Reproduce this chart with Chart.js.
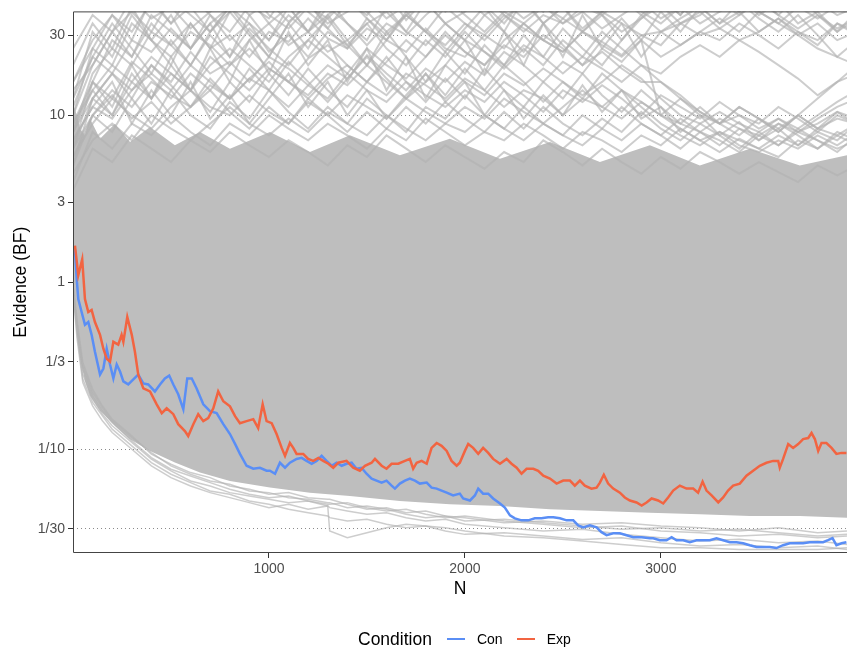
<!DOCTYPE html>
<html>
<head>
<meta charset="utf-8">
<title>Evidence (BF) by N</title>
<script src="https://cdn.jsdelivr.net/npm/chart.js@4.4.1/dist/chart.umd.min.js"></script>
<style>
  html, body { margin: 0; padding: 0; background: #fff; }
  #wrap { position: relative; width: 847px; height: 649px; font-family: 'Liberation Sans', Arial, sans-serif; }
  #legend { position: absolute; left: 358px; top: 628px; height: 22px; display: flex; align-items: center; color: #000; white-space: nowrap; }
  #legend .ttl { font-size: 17.5px; margin-right: 15px; }
  #legend .key { display: inline-block; width: 18px; height: 2px; margin-right: 12px; }
  #legend .lbl { font-size: 14px; margin-right: 14px; }
</style>
</head>
<body>
<div id="wrap">
  <canvas id="chart" width="847" height="649"></canvas>
  <div id="legend"></div>
</div>
<script>
// ── Data (N, log10 of the Bayes factor) ─────────────────────
const conN = [10,19,27,44,61,78,95,112,138,155,172,189,206,223,240,257,282,308,333,359,
  384,418,444,469,491,512,537,563,583,606,631,665,699,733,767,801,827,852,886,920,
  954,988,1005,1031,1056,1082,1107,1141,1167,1192,1218,1243,1269,1294,1320,1345,1371,1396,1422,1447,
  1473,1498,1524,1549,1575,1600,1626,1643,1668,1694,1719,1745,1770,1805,1830,1856,1881,1907,1940,1974,
  1991,2026,2051,2068,2093,2119,2144,2179,2204,2230,2255,2289,2323,2357,2391,2425,2451,2485,2519,2553,
  2578,2604,2638,2672,2697,2723,2757,2791,2825,2859,2902,2944,2961,2995,3029,3055,3080,3114,3148,3182,
  3216,3250,3284,3318,3352,3386,3420,3454,3488,3522,3556,3590,3624,3658,3692,3726,3760,3794,3828,3853,
  3876,3896,3922,3947];
const conLog10BF = [0.196,0.018,-0.101,-0.178,-0.255,-0.238,-0.315,-0.416,-0.553,-0.517,
  -0.398,-0.493,-0.576,-0.493,-0.535,-0.594,-0.612,-0.582,-0.553,-0.606,
  -0.612,-0.654,-0.612,-0.576,-0.559,-0.612,-0.671,-0.761,-0.576,-0.576,
  -0.636,-0.731,-0.772,-0.784,-0.850,-0.909,-0.968,-1.028,-1.099,-1.117,
  -1.111,-1.129,-1.129,-1.147,-1.081,-1.111,-1.081,-1.058,-1.052,-1.070,
  -1.087,-1.070,-1.040,-1.070,-1.099,-1.081,-1.099,-1.087,-1.081,-1.117,
  -1.111,-1.147,-1.176,-1.188,-1.200,-1.188,-1.218,-1.236,-1.206,-1.188,
  -1.176,-1.188,-1.206,-1.200,-1.230,-1.236,-1.248,-1.260,-1.277,-1.266,
  -1.295,-1.307,-1.277,-1.236,-1.266,-1.266,-1.295,-1.325,-1.349,-1.396,
  -1.414,-1.426,-1.426,-1.414,-1.414,-1.408,-1.408,-1.414,-1.426,-1.426,
  -1.456,-1.468,-1.456,-1.468,-1.497,-1.515,-1.503,-1.503,-1.515,-1.527,
  -1.527,-1.533,-1.533,-1.545,-1.545,-1.527,-1.545,-1.545,-1.557,-1.545,
  -1.545,-1.545,-1.533,-1.545,-1.557,-1.557,-1.563,-1.575,-1.586,-1.586,
  -1.586,-1.592,-1.575,-1.563,-1.563,-1.563,-1.557,-1.557,-1.557,-1.545,
  -1.533,-1.575,-1.563,-1.557];

const expN = [10,27,47,61,78,95,112,138,155,172,189,206,231,248,257,277,300,316,333,359,
  393,427,453,478,512,537,571,588,614,639,665,690,716,741,767,801,827,852,886,920,
  945,968,988,1014,1039,1065,1082,1107,1124,1141,1175,1200,1226,1252,1277,1303,1328,1354,1396,1430,
  1464,1490,1524,1541,1575,1600,1626,1660,1694,1719,1736,1754,1779,1805,1830,1856,1881,1907,1932,1958,
  1974,2000,2017,2042,2068,2093,2119,2144,2179,2213,2238,2264,2289,2315,2349,2374,2400,2434,2468,2502,
  2536,2561,2587,2612,2646,2672,2689,2709,2731,2757,2791,2816,2842,2876,2902,2927,2953,2986,3012,3037,
  3063,3097,3131,3165,3190,3213,3233,3259,3293,3318,3343,3369,3403,3437,3471,3505,3539,3573,3599,3607,
  3624,3650,3675,3701,3726,3752,3769,3786,3803,3820,3845,3871,3896,3922,3947];
const expLog10BF = [0.220,0.042,0.137,-0.101,-0.178,-0.166,-0.238,-0.315,-0.398,-0.458,
  -0.475,-0.357,-0.374,-0.315,-0.357,-0.208,-0.315,-0.416,-0.553,-0.636,
  -0.654,-0.731,-0.784,-0.755,-0.790,-0.850,-0.891,-0.921,-0.850,-0.790,
  -0.832,-0.814,-0.755,-0.654,-0.713,-0.743,-0.802,-0.844,-0.832,-0.820,
  -0.873,-0.731,-0.832,-0.844,-0.909,-0.992,-1.040,-0.963,-0.992,-1.028,
  -1.028,-1.058,-1.070,-1.052,-1.070,-1.087,-1.111,-1.081,-1.070,-1.111,
  -1.129,-1.099,-1.081,-1.058,-1.099,-1.117,-1.087,-1.087,-1.070,-1.058,
  -1.117,-1.081,-1.070,-1.087,-0.992,-0.963,-0.980,-1.010,-1.070,-1.099,
  -1.081,-1.010,-0.969,-0.992,-1.028,-0.992,-1.022,-1.058,-1.087,-1.058,
  -1.087,-1.111,-1.147,-1.117,-1.117,-1.129,-1.159,-1.176,-1.206,-1.188,
  -1.188,-1.218,-1.188,-1.218,-1.236,-1.230,-1.200,-1.153,-1.206,-1.236,
  -1.260,-1.289,-1.307,-1.319,-1.337,-1.319,-1.295,-1.307,-1.325,-1.289,
  -1.248,-1.218,-1.236,-1.236,-1.260,-1.194,-1.248,-1.277,-1.319,-1.289,
  -1.248,-1.218,-1.206,-1.159,-1.129,-1.099,-1.081,-1.070,-1.070,-1.111,
  -1.058,-0.969,-0.992,-0.969,-0.939,-0.933,-0.903,-0.939,-1.010,-0.963,
  -0.963,-0.992,-1.028,-1.022,-1.022];

// dense grey mass of simulated runs: top and bottom edge
const bandN = [0,5,20,36,61,87,138,214,291,393,520,648,801,1005,1209,1413,1668,1923,2179,2434,2689,2944,3199,3454,3709,3950];
const bandTop = [1.0,1.05,1.0,0.92,0.88,0.98,0.86,0.95,0.84,0.93,0.82,0.9,0.8,0.9,0.78,0.88,0.76,0.86,0.74,0.84,0.72,0.82,0.7,0.8,0.7,0.76];
const bandBottom = [-0.06,-0.12,-0.3,-0.45,-0.59,-0.68,-0.77,-0.86,-0.94,-1.01,-1.08,-1.14,-1.19,-1.23,-1.26,-1.28,-1.31,-1.33,-1.34,-1.36,-1.37,-1.38,-1.39,-1.40,-1.40,-1.41];

// single runs visible above the mass
const greyN = [0,100,200,300,400,500,600,700,800,900,1000,1100,1200,1300,1400,1500,1600,1700,1800,1900,
  2000,2100,2200,2300,2400,2500,2600,2700,2800,2900,3000,3100,3200,3300,3400,3500,3600,3700,3800,3900,4000];
const greyUpper = [
  [1.2,1.45,1.6,1.5,1.68,1.55,1.72,1.6,1.5,1.66,1.58,1.75,1.62,1.52,1.68,1.6,1.74,1.57,1.7,1.63,1.78,1.66,1.55,1.7,1.62,1.8,1.7,1.62,1.75,1.68,1.85,1.75,1.9,1.8,1.7,1.82,1.75,1.9,1.85,1.95,1.9],
  [0.9,1.25,1.4,1.3,1.5,1.42,1.55,1.4,1.48,1.35,1.5,1.44,1.58,1.46,1.4,1.52,1.45,1.6,1.5,1.42,1.55,1.48,1.6,1.52,1.45,1.58,1.5,1.62,1.55,1.48,1.5,1.55,1.48,1.52,1.45,1.38,1.3,1.22,1.12,1.2,1.3],
  [1.0,1.3,1.5,1.62,1.5,1.7,1.6,1.5,1.65,1.75,1.6,1.52,1.65,1.58,1.7,1.62,1.5,1.6,1.68,1.55,1.62,1.72,1.6,1.5,1.6,1.55,1.65,1.6,1.7,1.62,1.55,1.65,1.75,1.68,1.6,1.7,1.8,1.72,1.65,1.75,1.7],
  [1.1,1.35,1.25,1.45,1.38,1.52,1.4,1.6,1.45,1.55,1.38,1.48,1.35,1.5,1.42,1.3,1.45,1.38,1.52,1.4,1.35,1.48,1.4,1.55,1.45,1.38,1.5,1.44,1.36,1.48,1.42,1.55,1.6,1.7,1.62,1.72,1.65,1.75,1.68,1.6,1.65],
  [0.8,1.1,1.25,1.15,1.3,1.2,1.38,1.25,1.32,1.2,1.35,1.28,1.18,1.3,1.22,1.36,1.25,1.15,1.28,1.2,1.32,1.24,1.38,1.3,1.2,1.32,1.25,1.4,1.32,1.45,1.35,1.42,1.5,1.58,1.5,1.62,1.55,1.48,1.4,1.35,1.3],
  [0.95,1.2,1.1,1.32,1.22,1.1,1.25,1.15,1.3,1.4,1.28,1.2,1.34,1.42,1.3,1.2,1.32,1.45,1.35,1.5,1.38,1.3,1.42,1.35,1.48,1.4,1.3,1.38,1.28,1.2,1.2,1.12,1.02,0.95,1.0,0.92,0.98,0.9,0.95,1.02,0.98],
  [0.7,1.0,1.15,1.05,1.2,1.12,1.05,1.18,1.1,1.22,1.15,1.05,1.18,1.1,1.25,1.15,1.08,1.2,1.12,1.05,1.15,1.08,1.2,1.12,1.02,1.15,1.08,1.18,1.1,1.0,1.12,1.05,0.98,1.08,1.0,0.95,1.05,0.98,0.9,1.0,0.95],
  [0.85,1.05,0.98,1.15,1.25,1.15,1.3,1.2,1.1,1.22,1.32,1.2,1.12,1.25,1.18,1.3,1.2,1.1,1.2,1.3,1.2,1.12,1.25,1.18,1.28,1.2,1.12,1.2,1.3,1.22,1.1,1.0,0.95,1.02,0.95,0.9,0.98,0.92,1.0,1.08,1.15],
  [0.75,0.95,1.1,1.0,0.92,1.05,1.15,1.05,1.0,1.12,1.02,0.95,1.08,1.0,1.12,1.05,0.98,1.1,1.02,0.95,1.05,0.98,1.1,1.02,0.95,1.05,1.15,1.05,0.98,1.08,1.0,1.1,1.02,0.95,1.05,0.98,0.9,1.0,0.92,0.98,0.95],
  [0.6,0.9,0.8,0.95,0.88,1.0,0.9,0.82,0.95,0.88,1.0,0.92,0.85,0.95,0.88,0.8,0.92,0.85,0.98,0.9,0.82,0.9,0.85,0.95,0.88,0.8,0.9,0.85,0.78,0.88,0.82,0.92,0.85,0.78,0.86,0.8,0.75,0.85,0.8,0.88,0.82],
  [0.65,0.85,0.95,0.85,1.0,0.92,0.85,0.95,1.05,0.95,0.88,0.98,0.9,1.02,0.95,0.88,1.0,0.92,0.85,0.95,0.9,1.0,0.92,0.85,0.95,0.88,0.82,0.92,0.85,0.95,0.88,0.8,0.9,0.85,0.78,0.88,0.82,0.9,0.85,0.8,0.85],
  [1.0,1.4,1.3,1.55,1.45,1.35,1.5,1.42,1.3,1.45,1.55,1.42,1.5,1.38,1.45,1.55,1.62,1.5,1.42,1.55,1.45,1.38,1.3,1.42,1.35,1.25,1.35,1.28,1.2,1.3,1.25,1.35,1.42,1.35,1.45,1.5,1.58,1.5,1.45,1.55,1.5],
  [0.9,1.15,1.3,1.2,1.1,1.25,1.15,1.35,1.25,1.15,1.28,1.2,1.1,1.22,1.3,1.2,1.12,1.25,1.18,1.1,1.22,1.15,1.05,1.15,1.1,1.0,1.1,1.05,1.15,1.08,1.0,0.95,0.9,0.98,0.92,0.88,0.95,0.9,0.98,1.05,1.1],
  [0.55,0.8,0.72,0.88,0.8,0.72,0.85,0.78,0.9,0.82,0.75,0.85,0.78,0.7,0.82,0.75,0.88,0.8,0.72,0.82,0.75,0.68,0.78,0.72,0.85,0.78,0.7,0.8,0.72,0.65,0.75,0.68,0.78,0.72,0.65,0.72,0.66,0.6,0.7,0.64,0.7],
  [0.7,1.1,1.0,1.2,1.35,1.25,1.15,1.3,1.4,1.3,1.2,1.35,1.45,1.35,1.25,1.4,1.3,1.22,1.35,1.48,1.38,1.3,1.45,1.55,1.45,1.38,1.5,1.42,1.35,1.45,1.0,0.92,0.85,0.9,0.82,0.78,0.85,0.8,0.88,0.82,0.9],
  [0.8,1.2,1.45,1.35,1.6,1.5,1.4,1.55,1.65,1.55,1.45,1.6,1.5,1.65,1.55,1.42,1.55,1.48,1.6,1.7,1.6,1.5,1.62,1.55,1.65,1.58,1.7,1.6,1.5,1.58,1.66,1.55,1.62,1.52,1.6,1.68,1.6,1.52,1.6,1.52,1.58],
  [0.9,1.2,1.05,1.3,1.1,1.35,1.15,1.4,1.2,1.45,1.25,1.5,1.3,1.45,1.2,1.4,1.15,1.35,1.1,1.3,1.45,1.25,1.5,1.3,1.55,1.35,1.6,1.4,1.55,1.35,1.5,1.58,1.65,1.55,1.62,1.5,1.58,1.48,1.55,1.45,1.5],
  [1.3,1.55,1.4,1.65,1.45,1.6,1.4,1.55,1.35,1.6,1.45,1.65,1.5,1.7,1.55,1.45,1.65,1.5,1.68,1.55,1.45,1.6,1.5,1.7,1.55,1.65,1.5,1.6,1.45,1.58,1.7,1.6,1.75,1.65,1.8,1.7,1.6,1.72,1.6,1.5,1.62],
  [0.85,1.05,1.2,0.95,1.15,1.0,1.2,0.98,1.12,0.95,1.1,1.25,1.05,1.2,1.0,1.15,0.98,1.12,1.25,1.08,1.2,1.0,1.15,0.98,1.12,1.0,1.18,1.02,1.15,0.98,1.05,0.9,1.0,0.88,0.96,0.85,0.92,0.82,0.9,0.85,0.95],
  [1.05,1.35,1.55,1.4,1.25,1.45,1.3,1.5,1.65,1.5,1.35,1.55,1.4,1.6,1.45,1.3,1.5,1.35,1.2,1.38,1.25,1.42,1.3,1.48,1.35,1.52,1.4,1.3,1.45,1.6,1.7,1.6,1.75,1.65,1.72,1.6,1.68,1.55,1.62,1.5,1.58],
  [0.75,1.0,0.9,1.1,0.95,1.15,1.0,0.92,1.08,0.98,1.15,1.02,0.92,1.05,0.95,1.1,1.0,0.9,1.05,0.98,1.12,1.0,0.92,1.05,0.95,0.88,1.0,0.92,1.05,0.95,0.88,0.98,0.9,0.82,0.92,0.85,0.95,0.88,0.8,0.9,0.85],
  [1.1,1.5,1.35,1.6,1.45,1.3,1.55,1.4,1.62,1.48,1.35,1.55,1.68,1.52,1.4,1.58,1.45,1.62,1.5,1.38,1.52,1.65,1.5,1.38,1.55,1.42,1.3,1.45,1.58,1.45,1.62,1.5,1.65,1.55,1.68,1.58,1.5,1.6,1.48,1.35,1.45],
  [0.95,1.15,1.0,1.25,1.1,1.3,1.15,1.02,1.2,1.08,1.25,1.12,1.28,1.15,1.05,1.2,1.35,1.2,1.08,1.22,1.1,1.28,1.15,1.05,1.2,1.1,1.25,1.12,1.02,1.15,1.05,0.95,1.05,0.95,0.88,0.98,0.9,1.0,0.92,1.02,0.95],
  [1.2,1.4,1.6,1.45,1.7,1.55,1.65,1.5,1.62,1.7,1.55,1.65,1.5,1.6,1.7,1.58,1.48,1.6,1.5,1.65,1.55,1.45,1.58,1.68,1.55,1.65,1.52,1.62,1.7,1.6,1.5,1.42,1.5,1.45,1.55,1.48,1.4,1.5,1.42,1.55,1.48],
  [0.8,1.0,1.12,0.98,1.08,0.95,1.05,1.15,1.02,0.92,1.05,0.95,1.1,1.0,0.9,1.02,0.92,1.05,0.95,1.08,0.98,0.9,1.02,0.92,1.05,0.95,0.88,0.98,0.9,1.02,0.92,0.85,0.95,0.88,0.8,0.9,0.82,0.92,0.85,0.78,0.88],
  [1.15,1.3,1.5,1.35,1.55,1.42,1.3,1.48,1.35,1.52,1.4,1.3,1.45,1.58,1.42,1.55,1.4,1.3,1.45,1.35,1.5,1.38,1.28,1.4,1.3,1.45,1.35,1.5,1.4,1.3,1.2,1.1,1.0,0.95,1.05,0.98,0.92,1.0,1.1,1.2,1.25],
  [1.4,1.6,1.5,1.7,1.58,1.65,1.52,1.62,1.72,1.6,1.68,1.56,1.66,1.55,1.62,1.7,1.58,1.66,1.75,1.62,1.7,1.6,1.68,1.58,1.66,1.55,1.62,1.52,1.6,1.68,1.58,1.65,1.55,1.62,1.7,1.62,1.55,1.65,1.58,1.66,1.6],
  [0.9,1.1,1.25,1.1,1.3,1.18,1.05,1.22,1.1,1.28,1.15,1.32,1.2,1.08,1.22,1.35,1.22,1.1,1.25,1.12,1.28,1.15,1.3,1.2,1.08,1.2,1.1,1.25,1.15,1.05,0.95,0.88,0.82,0.9,0.85,0.8,0.88,0.82,0.92,0.88,0.95],
];

// single runs visible below the mass
const lowN = [0,20,50,100,150,200,300,400,500,600,700,800,900,1000,1100,1200,1300,1310,1400,1500,
  1600,1700,1800,1900,2000,2200,2400,2600,2800,3000,3200,3400,3600,3800,3950];
const greyLower = [
  [-0.05,-0.33,-0.6,-0.74,-0.83,-0.9,-1.0,-1.1,-1.17,-1.22,-1.26,-1.29,-1.32,-1.35,-1.33,-1.36,-1.34,-1.49,-1.53,-1.5,-1.47,-1.45,-1.46,-1.47,-1.49,-1.52,-1.53,-1.55,-1.57,-1.59,-1.59,-1.6,-1.6,-1.6,-1.59],
  [-0.04,-0.3,-0.58,-0.72,-0.8,-0.88,-0.98,-1.08,-1.15,-1.2,-1.25,-1.27,-1.31,-1.33,-1.36,-1.38,-1.4,-1.41,-1.43,-1.42,-1.45,-1.47,-1.46,-1.49,-1.51,-1.5,-1.52,-1.54,-1.53,-1.56,-1.58,-1.57,-1.59,-1.58,-1.6],
  [-0.03,-0.28,-0.55,-0.7,-0.79,-0.86,-0.96,-1.06,-1.13,-1.19,-1.22,-1.26,-1.28,-1.3,-1.32,-1.31,-1.34,-1.35,-1.37,-1.39,-1.38,-1.41,-1.43,-1.42,-1.45,-1.47,-1.49,-1.48,-1.51,-1.53,-1.55,-1.54,-1.56,-1.55,-1.57],
  [-0.02,-0.26,-0.52,-0.68,-0.77,-0.84,-0.95,-1.05,-1.12,-1.16,-1.2,-1.24,-1.27,-1.29,-1.28,-1.31,-1.33,-1.33,-1.32,-1.35,-1.37,-1.36,-1.39,-1.41,-1.4,-1.43,-1.45,-1.47,-1.46,-1.49,-1.5,-1.52,-1.51,-1.53,-1.52],
  [-0.02,-0.24,-0.5,-0.66,-0.75,-0.83,-0.93,-1.02,-1.1,-1.15,-1.19,-1.21,-1.25,-1.26,-1.29,-1.3,-1.32,-1.32,-1.35,-1.34,-1.36,-1.39,-1.41,-1.4,-1.43,-1.42,-1.44,-1.46,-1.48,-1.47,-1.49,-1.48,-1.5,-1.52,-1.51],
  [-0.01,-0.22,-0.48,-0.64,-0.74,-0.82,-0.92,-1.03,-1.09,-1.14,-1.17,-1.22,-1.24,-1.27,-1.26,-1.29,-1.3,-1.3,-1.33,-1.36,-1.35,-1.38,-1.37,-1.4,-1.41,-1.44,-1.43,-1.45,-1.44,-1.46,-1.47,-1.49,-1.47,-1.5,-1.49],
];

const xTicks = [1000, 2000, 3000];
const yTicks = [1/30, 1/10, 1/3, 1, 3, 10, 30];
const yTickLabels = ['1/30', '1/10', '1/3', '1', '3', '10', '30'];
const seriesNames = ['Con', 'Exp'];

// ── Styling ──────────────────────────────────────────────────
const COLORS = { Con: '#5A8EF5', Exp: '#F26441' };
const GREY_LINE = 'rgba(178,178,178,0.65)';
const GREY_FILL = '#bebebe';
const FONT = "'Liberation Sans', Arial, sans-serif";

Chart.defaults.font.family = FONT;
Chart.defaults.animation = false;

const toPoints = (ns, logs) => logs.slice(0, ns.length).map((v, i) => ({ x: ns[i], y: Math.pow(10, v) }));

const runLine = (ns, logs, width) => ({
  data: toPoints(ns, logs),
  borderColor: GREY_LINE,
  borderWidth: width,
  order: 2,
});

const datasets = [
  { label: 'Exp', data: toPoints(expN, expLog10BF), borderColor: COLORS.Exp, borderWidth: 2.5, order: 0 },
  { label: 'Con', data: toPoints(conN, conLog10BF), borderColor: COLORS.Con, borderWidth: 2.5, order: 1 },
  ...greyUpper.map(run => runLine(greyN, run, 2)),
  ...greyLower.map(run => runLine(lowN, run, 1.5)),
  { label: 'mass top', data: toPoints(bandN, bandTop), borderColor: 'rgba(0,0,0,0)', borderWidth: 0, order: 3 },
  { label: 'mass bottom', data: toPoints(bandN, bandBottom), borderColor: 'rgba(0,0,0,0)', borderWidth: 0,
    backgroundColor: GREY_FILL, fill: '-1', order: 3 },
];

// panel frame (left, top, bottom; the right edge is cut off)
const panelFrame = {
  id: 'panelFrame',
  afterDraw(chart) {
    const { ctx, chartArea: a } = chart;
    ctx.save();
    ctx.strokeStyle = '#444';
    ctx.lineWidth = 1;
    ctx.beginPath();
    ctx.moveTo(a.right + 1, a.top + 0.5);
    ctx.lineTo(a.left + 0.5, a.top + 0.5);
    ctx.lineTo(a.left + 0.5, a.bottom - 0.5);
    ctx.lineTo(a.right + 1, a.bottom - 0.5);
    ctx.stroke();
    ctx.restore();
  },
};

const isOne = c => c.tick && Math.abs(c.tick.value - 1) < 1e-9;

new Chart(document.getElementById('chart'), {
  type: 'line',
  data: { datasets },
  plugins: [panelFrame],
  options: {
    responsive: false,
    parsing: false,
    normalized: true,
    layout: { padding: { top: 7, right: 0, bottom: 49, left: 0 } },
    elements: { point: { radius: 0 }, line: { tension: 0 } },
    plugins: { legend: { display: false }, tooltip: { enabled: false } },
    scales: {
      x: {
        type: 'linear',
        min: 0,
        max: 3950,
        afterBuildTicks: s => { s.ticks = xTicks.map(v => ({ value: v })); },
        afterFit: s => { s.height = 47; },
        grid: { drawOnChartArea: false, drawTicks: true, tickLength: 5, tickColor: '#333', tickWidth: 1 },
        border: { display: false },
        ticks: { color: '#4d4d4d', font: { size: 14 }, padding: 3, maxRotation: 0, callback: v => String(v) },
        title: { display: true, text: 'N', color: '#000', font: { size: 17.5 }, padding: { top: 0, bottom: 0 } },
      },
      y: {
        type: 'logarithmic',
        min: 0.0239,
        max: 41.9,
        z: 1,
        afterBuildTicks: s => { s.ticks = yTicks.map(v => ({ value: v })); },
        afterFit: s => { s.width = 73; },
        grid: {
          drawTicks: true,
          tickLength: 5,
          tickColor: '#333',
          tickWidth: 1,
          color: c => (isOne(c) ? '#8c8c8c' : '#8a8a8a'),
          lineWidth: c => (isOne(c) ? 0.9 : 1),
        },
        border: {
          display: false,
          dash: c => (isOne(c) ? [] : [1, 3]),
        },
        ticks: {
          color: '#4d4d4d',
          font: { size: 14 },
          padding: 3,
          callback: v => {
            const i = yTicks.findIndex(t => Math.abs(t - v) / t < 1e-6);
            return i >= 0 ? yTickLabels[i] : '';
          },
        },
        title: { display: true, text: 'Evidence (BF)', color: '#000', font: { size: 17.5 }, padding: { top: 11, bottom: 0 } },
      },
    },
  },
});

// ── Legend ───────────────────────────────────────────────────
const legend = document.getElementById('legend');
const ttl = document.createElement('span');
ttl.className = 'ttl';
ttl.textContent = 'Condition';
legend.appendChild(ttl);
seriesNames.forEach(name => {
  const key = document.createElement('span');
  key.className = 'key';
  key.style.background = COLORS[name];
  const lbl = document.createElement('span');
  lbl.className = 'lbl';
  lbl.textContent = name;
  legend.appendChild(key);
  legend.appendChild(lbl);
});
</script>
</body>
</html>
